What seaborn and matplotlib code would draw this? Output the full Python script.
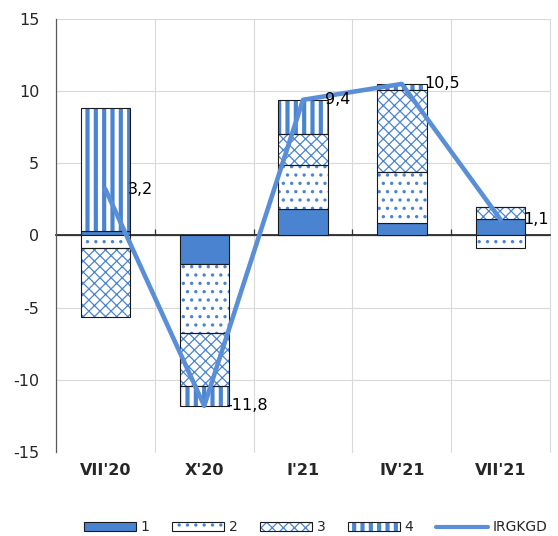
import numpy as np
import matplotlib
matplotlib.use("Agg")
import matplotlib.pyplot as plt
import seaborn as sns
from matplotlib.patches import Patch
from matplotlib.lines import Line2D
from matplotlib.legend_handler import HandlerTuple, HandlerPatch

# Contributions by component, percentage points
categories = ["VII'20", "X'20", "I'21", "IV'21", "VII'21"]
comp1 = [0.3, -2.0, 1.85, 0.85, 1.15]
comp2 = [-0.85, -4.75, 3.05, 3.55, -0.9]
comp3 = [-4.8, -3.65, 2.1, 5.7, 0.85]
comp4 = [8.55, -1.4, 2.4, 0.4, 0.0]
irgkgd = [3.2, -11.8, 9.4, 10.5, 1.1]
series_names = ["1", "2", "3", "4"]
line_name = "IRGKGD"

sns.set_theme(style="white")
plt.rcParams["font.family"] = ["DejaVu Sans"]
plt.rcParams["axes.unicode_minus"] = False

BLUE = "#4a84d0"
LINE_BLUE = "#5a8fd8"
EDGE = "#1a1a1a"
GRID = "#d9d9d9"

fig = plt.figure(figsize=(5.58, 5.36), dpi=100)
ax = fig.add_axes([0.1004, 0.1567, 0.8853, 0.8079])

x = np.arange(len(categories))
width = 0.5
pos_base = np.zeros(len(categories))
neg_base = np.zeros(len(categories))

# fill, hatch, hatch line width for each component
styles = [
    (BLUE, None, 1.0),
    ("white", "..", 1.2),
    ("white", "xxx", 0.9),
    ("white", "||", 3.0),
]

for vals, (face, hatch, hlw) in zip([comp1, comp2, comp3, comp4], styles):
    vals = np.asarray(vals, dtype=float)
    bottoms = np.where(vals >= 0, pos_base, neg_base)
    with plt.rc_context({"hatch.linewidth": hlw}):
        if hatch is None:
            ax.bar(x, vals, width, bottom=bottoms, color=face,
                   edgecolor=EDGE, linewidth=0.8, zorder=2)
        else:
            ax.bar(x, vals, width, bottom=bottoms, color=face,
                   edgecolor=BLUE, hatch=hatch, linewidth=0, zorder=2)
            ax.bar(x, vals, width, bottom=bottoms, fill=False,
                   edgecolor=EDGE, linewidth=0.8, zorder=2.1)
    pos_base = pos_base + np.where(vals >= 0, vals, 0)
    neg_base = neg_base + np.where(vals < 0, vals, 0)

sns.lineplot(x=x, y=irgkgd, ax=ax, color=LINE_BLUE, linewidth=3.3,
             legend=False, zorder=4)

for xi, v in zip(x, irgkgd):
    ax.annotate(f"{v:.1f}".replace(".", ","), (xi, v), xytext=(16, 0),
                textcoords="offset points", ha="left", va="center",
                fontsize=11.5, color="black", zorder=5)

ax.set_xlim(-0.5, len(categories) - 0.5)
ax.set_ylim(-15, 15)
ax.set_yticks(np.arange(-15, 16, 5))
ax.set_xticks(x)
ax.set_xticklabels(categories, fontweight="bold")
ax.tick_params(axis="x", length=0, pad=8, labelsize=11.5)
ax.tick_params(axis="y", length=0, pad=12, labelsize=11.5)

# gridlines
for yv in [-10, -5, 5, 10, 15]:
    ax.axhline(yv, color=GRID, linewidth=0.8, zorder=0)
for xb in np.arange(0.5, len(categories) + 0.5, 1.0):
    ax.axvline(xb, color=GRID, linewidth=0.8, zorder=0, clip_on=False)
ax.grid(False)

for side in ["top", "right", "bottom"]:
    ax.spines[side].set_visible(False)
ax.spines["left"].set_color("#595959")
ax.spines["left"].set_linewidth(0.9)
ax.axhline(0, color="#333333", linewidth=0.9, zorder=1)

# category separators on the zero line
sec = ax.secondary_xaxis(0.5)
sec.set_xticks(np.arange(0.5, len(categories) - 0.5, 1.0))
sec.set_xticklabels([])
sec.tick_params(axis="x", direction="out", length=4, color="#333333", width=0.9)
sec.spines["bottom"].set_visible(False)


def keep_hatch_width(legend_handle, orig_handle):
    legend_handle.update_from(orig_handle)
    if hasattr(orig_handle, "_hatch_linewidth"):
        legend_handle._hatch_linewidth = orig_handle._hatch_linewidth


# legend
handles = [Patch(facecolor=BLUE, edgecolor=EDGE, linewidth=0.8)]
for face, hatch, hlw in styles[1:]:
    with plt.rc_context({"hatch.linewidth": hlw}):
        h_fill = Patch(facecolor=face, edgecolor=BLUE, hatch=hatch, linewidth=0)
    h_edge = Patch(fill=False, edgecolor=EDGE, linewidth=0.8)
    handles.append((h_fill, h_edge))
handles.append(Line2D([], [], color=LINE_BLUE, linewidth=3))
labels = series_names + [line_name]

fig.legend(handles, labels, loc="center", bbox_to_anchor=(0.566, 0.016),
           ncol=5, frameon=False, fontsize=10, handlelength=3.7,
           handleheight=0.6, handletextpad=0.35, columnspacing=1.65,
           handler_map={tuple: HandlerTuple(ndivide=1),
                        Patch: HandlerPatch(update_func=keep_hatch_width)})

fig.savefig("out.png", dpi=100)
